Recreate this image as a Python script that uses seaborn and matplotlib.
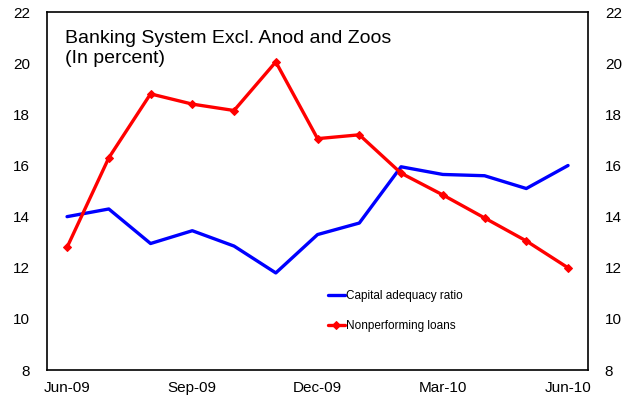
import numpy as np
import pandas as pd
import matplotlib
matplotlib.use('Agg')
import matplotlib.pyplot as plt
import seaborn as sns

# данные
months = ['Jun-09', 'Jul-09', 'Aug-09', 'Sep-09', 'Oct-09', 'Nov-09', 'Dec-09',
          'Jan-10', 'Feb-10', 'Mar-10', 'Apr-10', 'May-10', 'Jun-10']
car = [14.0, 14.3, 12.95, 13.45, 12.85, 11.8, 13.3, 13.75, 15.95, 15.65, 15.6, 15.1, 16.0]
npl = [12.8, 16.3, 18.8, 18.4, 18.15, 20.05, 17.05, 17.2, 15.7, 14.85, 13.95, 13.05, 12.0]
tick_labels = ['Jun-09', 'Sep-09', 'Dec-09', 'Mar-10', 'Jun-10']

sns.set_style('white')
plt.rcParams['font.family'] = ['Liberation Sans', 'DejaVu Sans']
plt.rcParams['text.color'] = 'black'
plt.rcParams['xtick.color'] = 'black'
plt.rcParams['ytick.color'] = 'black'

df = pd.DataFrame({'idx': np.arange(len(months)), 'car': car, 'npl': npl})

fig = plt.figure(figsize=(6.31, 4.01), dpi=100)
ax = fig.add_axes([0.0745, 0.077, 0.8575, 0.893])

sns.lineplot(data=df, x='idx', y='car', ax=ax, color='#0000FF', linewidth=2.4,
             label='Capital adequacy ratio')
sns.lineplot(data=df, x='idx', y='npl', ax=ax, color='#FF0000', linewidth=2.4,
             marker='D', markersize=4, markeredgecolor='#FF0000',
             label='Nonperforming loans')

ax.set_xlim(-0.48, 12.48)
ax.set_ylim(8, 22)
ax.set_yticks(range(8, 23, 2))
ax.set_xticks([0, 3, 6, 9, 12])
ax.set_xticklabels(tick_labels)
ax.set_xlabel('')
ax.set_ylabel('')
ax.tick_params(axis='both', length=0, labelsize=11)
ax.tick_params(axis='y', labelright=True, pad=12)
ax.tick_params(axis='x', pad=8)

for s in ax.spines.values():
    s.set_color('black')
    s.set_linewidth(1.2)

ax.text(0.033, 0.95, 'Banking System Excl. Anod and Zoos\n(In percent)',
        transform=ax.transAxes, va='top', ha='left', fontsize=14, linespacing=1.25)

ax.legend(loc='center left', bbox_to_anchor=(0.5, 0.165), frameon=False,
          fontsize=8.5, handlelength=1.4, handletextpad=0.1, labelspacing=1.5)

fig.savefig('out.png', dpi=100)
